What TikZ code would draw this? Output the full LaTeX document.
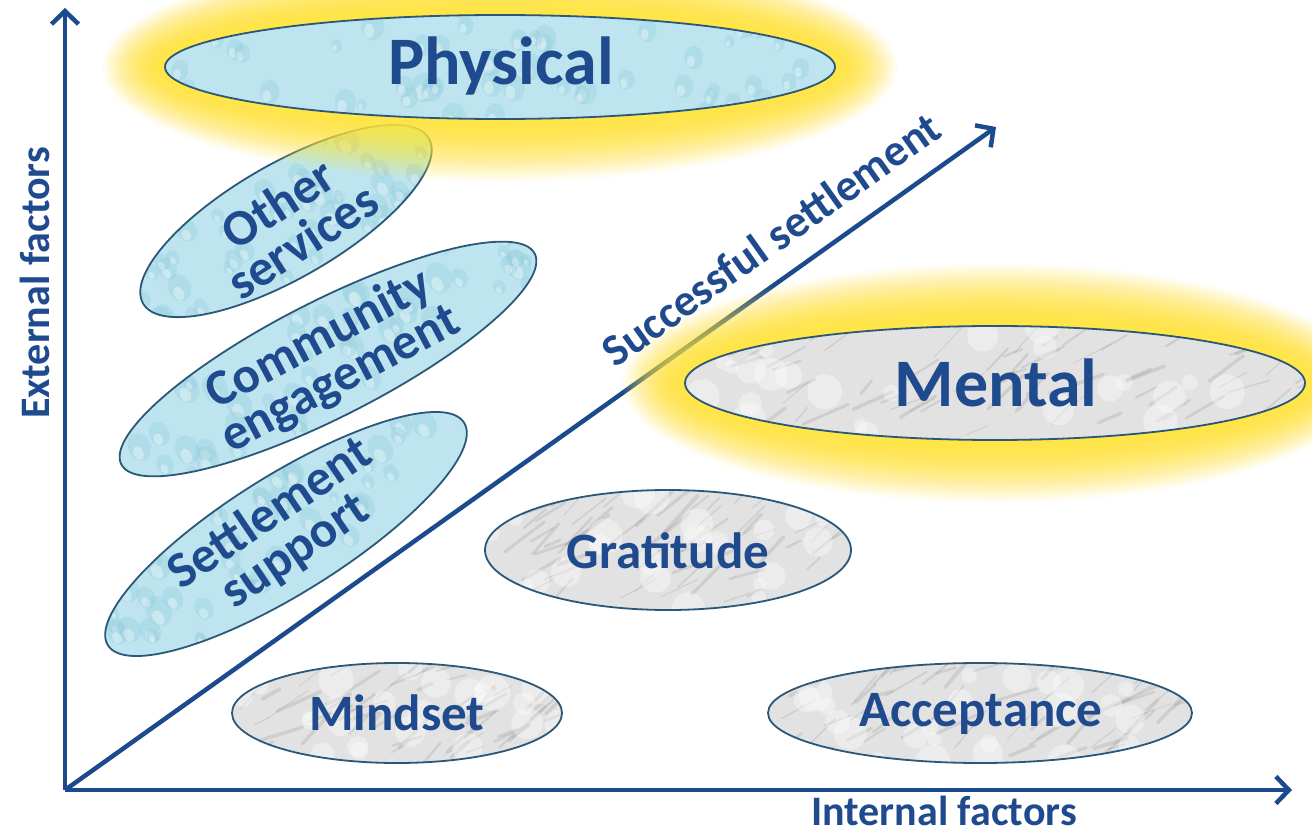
\documentclass[tikz,border=0pt]{standalone}
\usepackage{fontspec}
\setmainfont{Carlito}
\usetikzlibrary{arrows.meta}
\definecolor{axisblue}{HTML}{1B4A8D}
\definecolor{txtblue}{HTML}{1F4B8E}
\definecolor{edgec}{HTML}{2B5778}
\definecolor{glowc}{HTML}{FFE53B}
\definecolor{waterA}{HTML}{BEE5EF}
\definecolor{waterB}{HTML}{93CCDD}
\definecolor{marbleA}{HTML}{E2E2E2}
\definecolor{marbleB}{HTML}{8A8A8A}
\tikzset{
  axisline/.style={axisblue, line width=4.5pt, -{Straight Barb[length=13pt,width=27pt]}},
  lbl/.style={text=txtblue, font=\bfseries\fontsize{51}{45}\selectfont, align=center, inner sep=0pt},
  biglbl/.style={text=txtblue, font=\bfseries\fontsize{68}{70}\selectfont, inner sep=0pt},
  axlbl/.style={text=txtblue, font=\bfseries\fontsize{42}{44}\selectfont, inner sep=0pt},
  rim/.style={edgec, line width=1.8pt}
}
\newcommand\glowell[4]{%
  \foreach \k in {24,...,1}{%
    \pgfmathsetmacro\ra{#3+2.6*\k}\pgfmathsetmacro\rb{#4+2.6*\k}%
    \pgfmathsetmacro\op{0.06+0.004*(24-\k)}%
    \fill[glowc, opacity=\op] (#1,#2) ellipse [x radius=\ra, y radius=\rb];
  }}
\newcommand\waterblob[6]{%
  \begin{scope}[rotate around={#5:(#1,#2)}]
    \fill[waterA] (#1,#2) ellipse [x radius=#3, y radius=#4];
    \begin{scope}
      \clip (#1,#2) ellipse [x radius=#3, y radius=#4];
      \pgfmathsetseed{#6}
      \foreach \i in {1,...,55}{%
        \pgfmathsetmacro\px{#1+rand*#3}%
        \pgfmathsetmacro\py{#2+rand*#4}%
        \pgfmathsetmacro\pr{6+10*rnd}%
        \fill[waterB, opacity=.35] (\px,\py) ellipse [x radius=\pr*0.8, y radius=\pr];
        \fill[white, opacity=.35] (\px-\pr*0.25,\py+\pr*0.35) ellipse [x radius=\pr*0.35, y radius=\pr*0.5];
      }
    \end{scope}
    \draw[rim] (#1,#2) ellipse [x radius=#3, y radius=#4];
  \end{scope}}
\newcommand\marbleblob[5]{%
  \fill[marbleA] (#1,#2) ellipse [x radius=#3, y radius=#4];
  \begin{scope}
    \clip (#1,#2) ellipse [x radius=#3, y radius=#4];
    \pgfmathsetseed{#5}
    \foreach \i in {1,...,70}{%
      \pgfmathsetmacro\px{#1+rand*#3}%
      \pgfmathsetmacro\py{#2+rand*#4}%
      \pgfmathsetmacro\pl{15+35*rnd}%
      \pgfmathsetmacro\pa{-(15+35*rnd)}%
      \pgfmathsetmacro\pw{0.8+3*rnd}%
      \draw[marbleB, opacity=.22, line width=\pw pt, line cap=round] (\px,\py) -- ++(\pa:\pl);
    }
    \foreach \i in {1,...,25}{%
      \pgfmathsetmacro\px{#1+rand*#3}%
      \pgfmathsetmacro\py{#2+rand*#4}%
      \pgfmathsetmacro\pr{6+12*rnd}%
      \fill[white, opacity=.35] (\px,\py) circle [radius=\pr];
    }
  \end{scope}
  \draw[rim] (#1,#2) ellipse [x radius=#3, y radius=#4];}
\begin{document}
\begin{tikzpicture}[x=1pt,y=-1pt]
\useasboundingbox (0,0) rectangle (1312,834);
\fill[white] (0,0) rectangle (1312,834);

% small water ellipses
\waterblob{286}{221}{165}{57}{30}{11}
\waterblob{328}{359}{232}{58}{27}{12}
\waterblob{286}{534}{210}{59}{32}{13}

% axes
\coordinate (O) at (65,790);
\coordinate (Ytop) at (65,8);
\coordinate (Xend) at (1292,790);
\coordinate (Dend) at (996,127);
\draw[axisline] (O) -- (Ytop);
\draw[axisline] (O) -- (Xend);
\draw[axisline] (O) -- (Dend);

% glows
\glowell{500}{67}{335}{52}
\glowell{995}{383}{310}{57}

% big ellipses
\waterblob{500}{67}{335}{52}{0}{21}
\marbleblob{995}{383}{310}{57}{31}
\marbleblob{668}{550}{183}{60}{32}
\marbleblob{397}{713}{165}{50}{33}
\marbleblob{980}{713}{212}{50}{34}

% labels
\node[biglbl] (phys) at (501,66) {Physical};
\node[biglbl] (ment) at (996,383) {Mental};
\node[lbl] (grat) at (668,551) {Gratitude};
\node[lbl] (mind) at (397,713) {Mindset};
\node[lbl] (acc) at (981,714) {Acceptance};
\node[lbl, rotate=33] (oths) at (290,222) {Other\\services};
\node[lbl, rotate=28] (comm) at (330,360) {Community\\engagement};
\node[lbl, rotate=34] (sett) at (283,533) {Settlement\\support};
\node[axlbl, rotate=90] (ext) at (35,283) {External factors};
\node[axlbl] (int) at (944,811) {Internal factors};
\node[axlbl, font=\bfseries\fontsize{45}{46}\selectfont, rotate=35.4] (succ) at (771,239) {Successful settlement};
\end{tikzpicture}
\end{document}
